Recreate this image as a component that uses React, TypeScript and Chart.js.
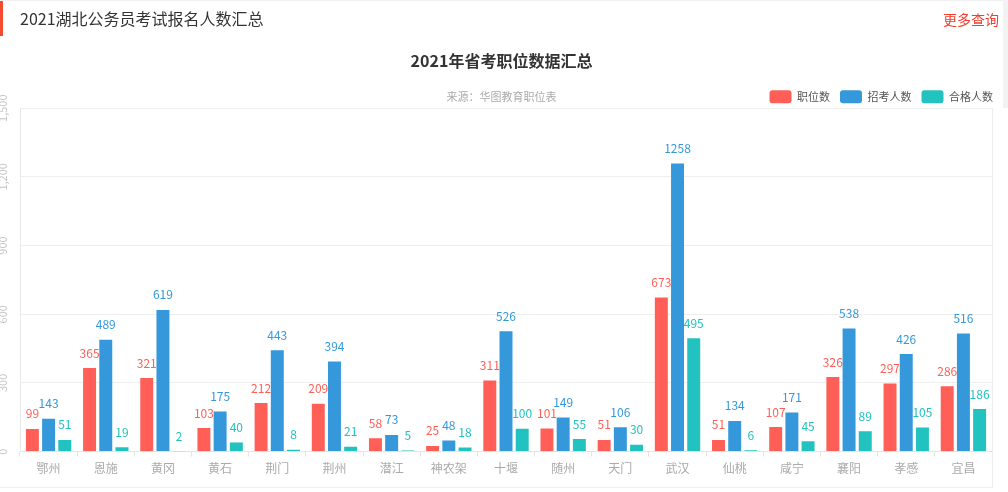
import React, { useEffect, useRef } from "react";
import { Chart, registerables } from "chart.js";

Chart.register(...registerables);

const categories = ["鄂州", "恩施", "黄冈", "黄石", "荆门", "荆州", "潜江", "神农架", "十堰", "随州", "天门", "武汉", "仙桃", "咸宁", "襄阳", "孝感", "宜昌"];
const positions = [99, 365, 321, 103, 212, 209, 58, 25, 311, 101, 51, 673, 51, 107, 326, 297, 286];
const applicants = [143, 489, 619, 175, 443, 394, 73, 48, 526, 149, 106, 1258, 134, 171, 538, 426, 516];
const qualified = [51, 19, 2, 40, 8, 21, 5, 18, 100, 55, 30, 495, 6, 45, 89, 105, 186];
const seriesNames = ["职位数", "招考人数", "合格人数"];
const seriesColors = ["#ff5f56", "#3498db", "#21c2bf"];
const yMin = 0;
const yMax = 1500;
const yStep = 300;

const pageTitle = "2021湖北公务员考试报名人数汇总";
const moreLink = "更多查询";
const chartTitle = "2021年省考职位数据汇总";
const sourceNote = "来源：华图教育职位表";

const FONT = '"Noto Sans CJK SC", "Noto Sans", sans-serif';

const valueLabels = {
  id: "valueLabels",
  afterDatasetsDraw(chart: any) {
    const ctx = chart.ctx;
    ctx.save();
    ctx.font = `12px ${FONT}`;
    ctx.textAlign = "center";
    ctx.textBaseline = "middle";
    chart.data.datasets.forEach((ds: any, i: number) => {
      const meta = chart.getDatasetMeta(i);
      if (meta.hidden) return;
      ctx.fillStyle = ds.backgroundColor;
      meta.data.forEach((el: any, j: number) => {
        ctx.fillText(String(ds.data[j]), el.x, el.y - 15);
      });
    });
    ctx.restore();
  },
};

const rotatedYTicks = {
  id: "rotatedYTicks",
  afterDraw(chart: any) {
    const scale = chart.scales.y;
    const ctx = chart.ctx;
    ctx.save();
    ctx.font = `11px ${FONT}`;
    ctx.fillStyle = "#c4c4c4";
    ctx.textAlign = "center";
    ctx.textBaseline = "middle";
    scale.ticks.forEach((t: any, i: number) => {
      const y = scale.getPixelForTick(i);
      ctx.save();
      ctx.translate(3, y);
      ctx.rotate(-Math.PI / 2);
      ctx.fillText(t.label, 0, 0);
      ctx.restore();
    });
    ctx.restore();
  },
};

const sourceNotePlugin = {
  id: "sourceNote",
  afterDraw(chart: any) {
    const lg = chart.legend;
    const ctx = chart.ctx;
    ctx.save();
    ctx.font = `11px ${FONT}`;
    ctx.fillStyle = "#aaaaaa";
    ctx.textAlign = "center";
    ctx.textBaseline = "middle";
    ctx.fillText(sourceNote, (lg.left + lg.right) / 2, lg.top + 10 + 6.5);
    ctx.restore();
  },
};

export default function App() {
  const canvasRef = useRef<HTMLCanvasElement | null>(null);

  useEffect(() => {
    if (!canvasRef.current) return;
    const chart = new Chart(canvasRef.current, {
      type: "bar",
      data: {
        labels: categories,
        datasets: [positions, applicants, qualified].map((d, i) => ({
          label: seriesNames[i],
          data: d,
          backgroundColor: seriesColors[i],
          borderWidth: 0,
          categoryPercentage: 0.85,
          barPercentage: 0.8,
        })),
      },
      options: {
        animation: false,
        responsive: false,
        devicePixelRatio: 1,
        layout: { padding: { top: 36, left: 0, right: 5, bottom: 11 } },
        plugins: {
          title: {
            display: true,
            text: chartTitle,
            color: "#333333",
            font: { size: 16, weight: "bold", family: FONT },
            padding: { top: 15, bottom: 10 },
          },
          legend: {
            position: "top",
            align: "end",
            maxHeight: 28,
            labels: {
              boxWidth: 22,
              boxHeight: 13,
              padding: 10,
              color: "#555555",
              font: { size: 11, family: FONT },
              useBorderRadius: true,
              borderRadius: 3,
            },
          },
          tooltip: { enabled: false },
        },
        scales: {
          x: {
            grid: {
              display: true,
              drawOnChartArea: false,
              drawTicks: true,
              tickLength: 5,
              color: "#e4e4e4",
              offset: true,
            },
            border: { display: true, color: "#e4e4e4" },
            ticks: {
              color: "#aaaaaa",
              font: { size: 12, family: FONT },
              padding: 5,
              autoSkip: false,
              maxRotation: 0,
            },
          },
          y: {
            min: yMin,
            max: yMax,
            ticks: { stepSize: yStep, display: false },
            grid: { color: "#eeeeee", drawTicks: false },
            border: { display: true, color: "#e8e8e8" },
            afterFit: (s: any) => {
              s.width = 20;
            },
          },
          yRight: {
            position: "right",
            display: true,
            grid: { display: false, drawTicks: false },
            border: { display: false },
            ticks: { display: false },
            afterFit: (s: any) => {
              s.width = 11;
            },
          },
        },
      } as any,
      plugins: [valueLabels, rotatedYTicks, sourceNotePlugin],
    });
    return () => chart.destroy();
  }, []);

  return (
    <div
      style={{
        position: "fixed",
        left: 0,
        top: 0,
        width: 1008,
        height: 492,
        background: "#ffffff",
        overflow: "hidden",
        fontFamily: FONT,
      }}
    >
      <canvas ref={canvasRef} width={1008} height={492} style={{ position: "absolute", left: 0, top: 0 }} />
      <div style={{ position: "absolute", left: 0, top: 0, width: 1008, height: 1, background: "#f0f0f0" }} />
      <div style={{ position: "absolute", left: 0, top: 1, width: 3, height: 35, background: "#f44a2f" }} />
      <div
        style={{
          position: "absolute",
          left: 20,
          top: 0,
          height: 37,
          lineHeight: "37px",
          fontSize: 16,
          color: "#333333",
        }}
      >
        {pageTitle}
      </div>
      <div
        style={{
          position: "absolute",
          right: 9,
          top: 0,
          height: 38,
          lineHeight: "38px",
          fontSize: 14,
          color: "#f23d2f",
        }}
      >
        {moreLink}
      </div>
      <div style={{ position: "absolute", left: 1003, top: 0, width: 5, height: 108, background: "#f2f2f2" }} />
      <div style={{ position: "absolute", left: 992, top: 108, width: 1, height: 379, background: "#eeeeee" }} />
      <div style={{ position: "absolute", left: 0, top: 487, width: 993, height: 1, background: "#eeeeee" }} />
    </div>
  );
}
